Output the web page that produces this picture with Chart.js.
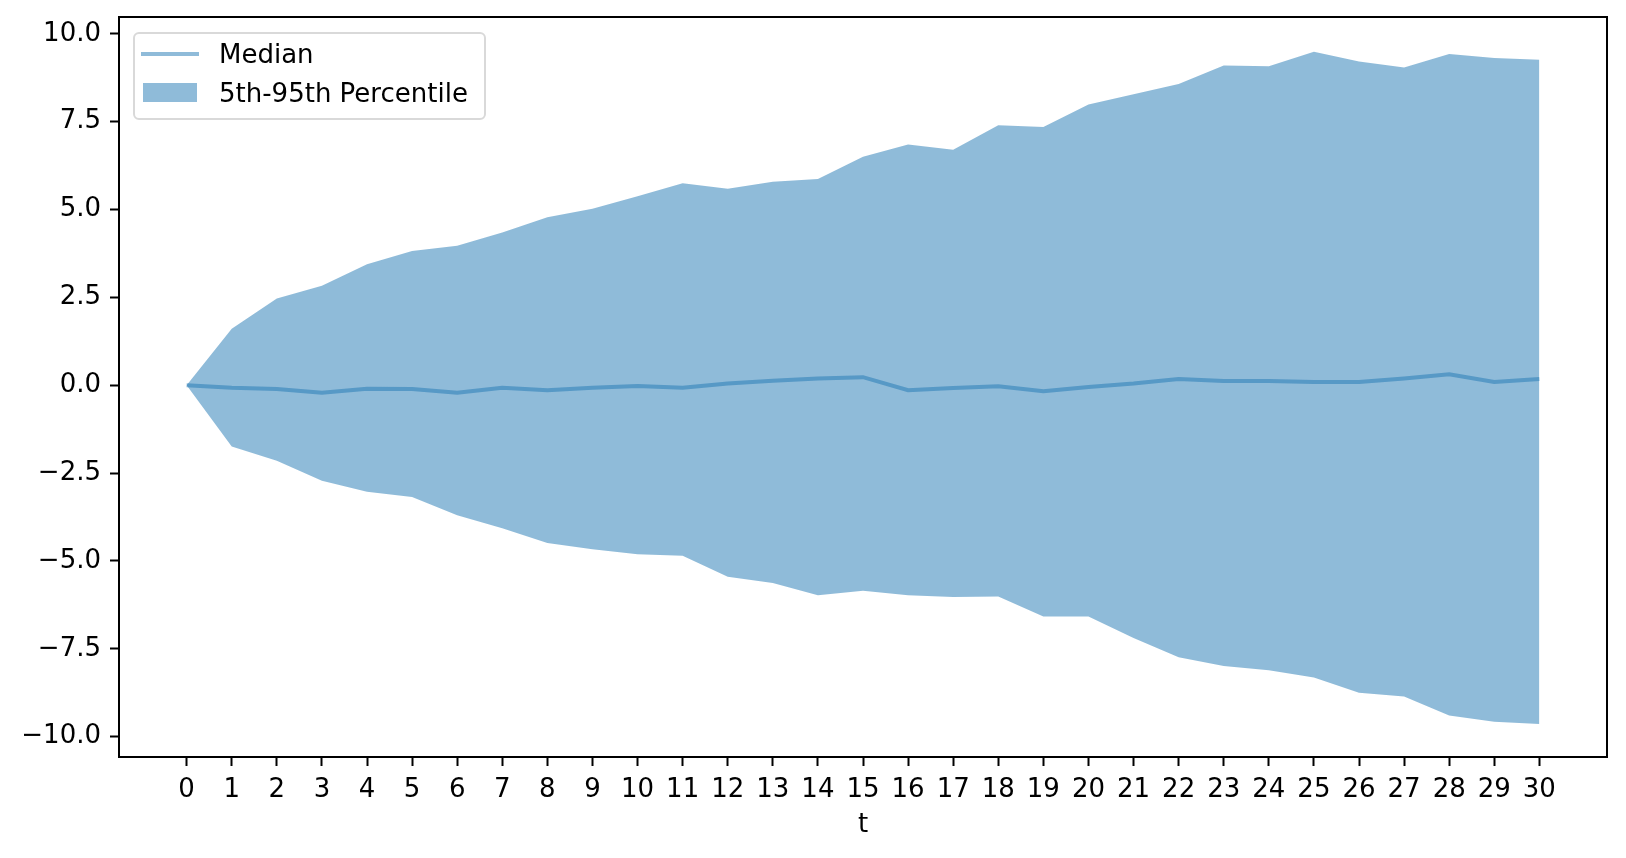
<!DOCTYPE html>
<html>
<head>
<meta charset="utf-8">
<script src="https://cdn.jsdelivr.net/npm/chart.js@4/dist/chart.umd.min.js"></script>
<style>
  html, body { margin: 0; padding: 0; background: #fff; }
  #wrap { position: relative; width: 1626px; height: 858px; }
  #legend { position: absolute; left: 133px; top: 32px; width: 349px; height: 84px;
            border: 2px solid #d9d9d9; border-radius: 6px; background: rgba(255,255,255,0.8);
            font-family: "DejaVu Sans", sans-serif; font-size: 26px; color: #000; }
  .lg-line { position: absolute; left: 6px; top: 18px; width: 58px; height: 4px; background: rgba(31,119,180,0.5); }
  .lg-rect { position: absolute; left: 8px; top: 49px; width: 54px; height: 19px; background: rgba(31,119,180,0.5); }
  .lg-text { position: absolute; left: 84px; line-height: 26px; white-space: nowrap; }
</style>
</head>
<body>
<div id="wrap">
  <canvas id="c" width="1626" height="858"></canvas>
  <div id="legend">
    <div class="lg-line"></div><div class="lg-text" style="top:7px">Median</div>
    <div class="lg-rect"></div><div class="lg-text" style="top:46px">5th-95th Percentile</div>
  </div>
</div>
<script>
const t = [0,1,2,3,4,5,6,7,8,9,10,11,12,13,14,15,16,17,18,19,20,21,22,23,24,25,26,27,28,29,30];
const median = [0,-0.07,-0.11,-0.21,-0.10,-0.11,-0.21,-0.07,-0.14,-0.07,-0.02,-0.07,0.05,0.13,0.19,0.23,-0.14,-0.08,-0.03,-0.17,-0.05,0.05,0.18,0.12,0.12,0.09,0.09,0.19,0.31,0.09,0.18];
const p95 = [0,1.61,2.47,2.83,3.44,3.82,3.97,4.35,4.78,5.02,5.38,5.75,5.59,5.79,5.87,6.50,6.85,6.70,7.40,7.35,7.99,8.28,8.57,9.10,9.08,9.49,9.21,9.04,9.43,9.31,9.26];
const p5 = [0,-1.74,-2.15,-2.72,-3.03,-3.18,-3.70,-4.07,-4.49,-4.67,-4.81,-4.85,-5.45,-5.63,-5.98,-5.85,-5.98,-6.03,-6.01,-6.58,-6.58,-7.19,-7.74,-7.99,-8.11,-8.32,-8.75,-8.86,-9.40,-9.58,-9.64];
const xTicks = t.slice();
const yTicks = [-10,-7.5,-5,-2.5,0,2.5,5,7.5,10];

const pts = arr => arr.map((v,i) => ({x: t[i], y: v}));
const C0a = 'rgba(31,119,180,0.5)';
const FONT = {family: 'DejaVu Sans', size: 26};

const frame = {
  id: 'frame',
  afterDraw(chart) {
    const a = chart.chartArea, ctx = chart.ctx;
    ctx.save();
    ctx.strokeStyle = '#000'; ctx.lineWidth = 2;
    ctx.strokeRect(a.left, a.top, a.right - a.left, a.bottom - a.top);
    ctx.restore();
  }
};

new Chart(document.getElementById('c'), {
  type: 'line',
  data: {
    datasets: [
      { label: 'Median', data: pts(median), borderColor: C0a, borderWidth: 4, pointRadius: 0, fill: false, tension: 0, order: 0 },
      { label: '5th-95th Percentile', data: pts(p95), borderWidth: 0, borderColor: 'rgba(0,0,0,0)', backgroundColor: C0a, pointRadius: 0, fill: '+1', tension: 0, order: 1 },
      { label: 'lower', data: pts(p5), borderWidth: 0, borderColor: 'rgba(0,0,0,0)', pointRadius: 0, fill: false, tension: 0, order: 2 }
    ]
  },
  options: {
    responsive: false,
    animation: false,
    devicePixelRatio: 1,
    layout: { padding: { top: 17, right: 19, left: 0, bottom: 0 } },
    plugins: { legend: { display: false }, tooltip: { enabled: false }, filler: { propagate: false } },
    scales: {
      x: {
        type: 'linear', min: -1.5, max: 31.5,
        afterBuildTicks: s => { s.ticks = xTicks.map(v => ({value: v})); },
        afterFit: s => { s.height = 101; s.paddingLeft = 0; s.paddingRight = 0; },
        grid: { display: true, drawOnChartArea: false, drawTicks: true, tickLength: 9, tickColor: '#000', tickWidth: 2 },
        border: { display: true, color: '#000', width: 2 },
        ticks: { color: '#000', font: FONT, padding: 9, maxRotation: 0, autoSkip: false, callback: v => String(v) },
        title: { display: true, text: 't', color: '#000', font: FONT, padding: { top: 2, bottom: 17 } }
      },
      y: {
        type: 'linear', min: -10.58, max: 10.48,
        afterBuildTicks: s => { s.ticks = yTicks.map(v => ({value: v})); },
        afterFit: s => { s.width = 119; s.paddingTop = 0; s.paddingBottom = 0; },
        grid: { display: true, drawOnChartArea: false, drawTicks: true, tickLength: 9, tickColor: '#000', tickWidth: 2 },
        border: { display: true, color: '#000', width: 2 },
        ticks: { color: '#000', font: FONT, padding: 9, autoSkip: false, callback: v => v.toFixed(1).replace('-', '\u2212') }
      }
    }
  },
  plugins: [frame]
});
</script>
</body>
</html>
